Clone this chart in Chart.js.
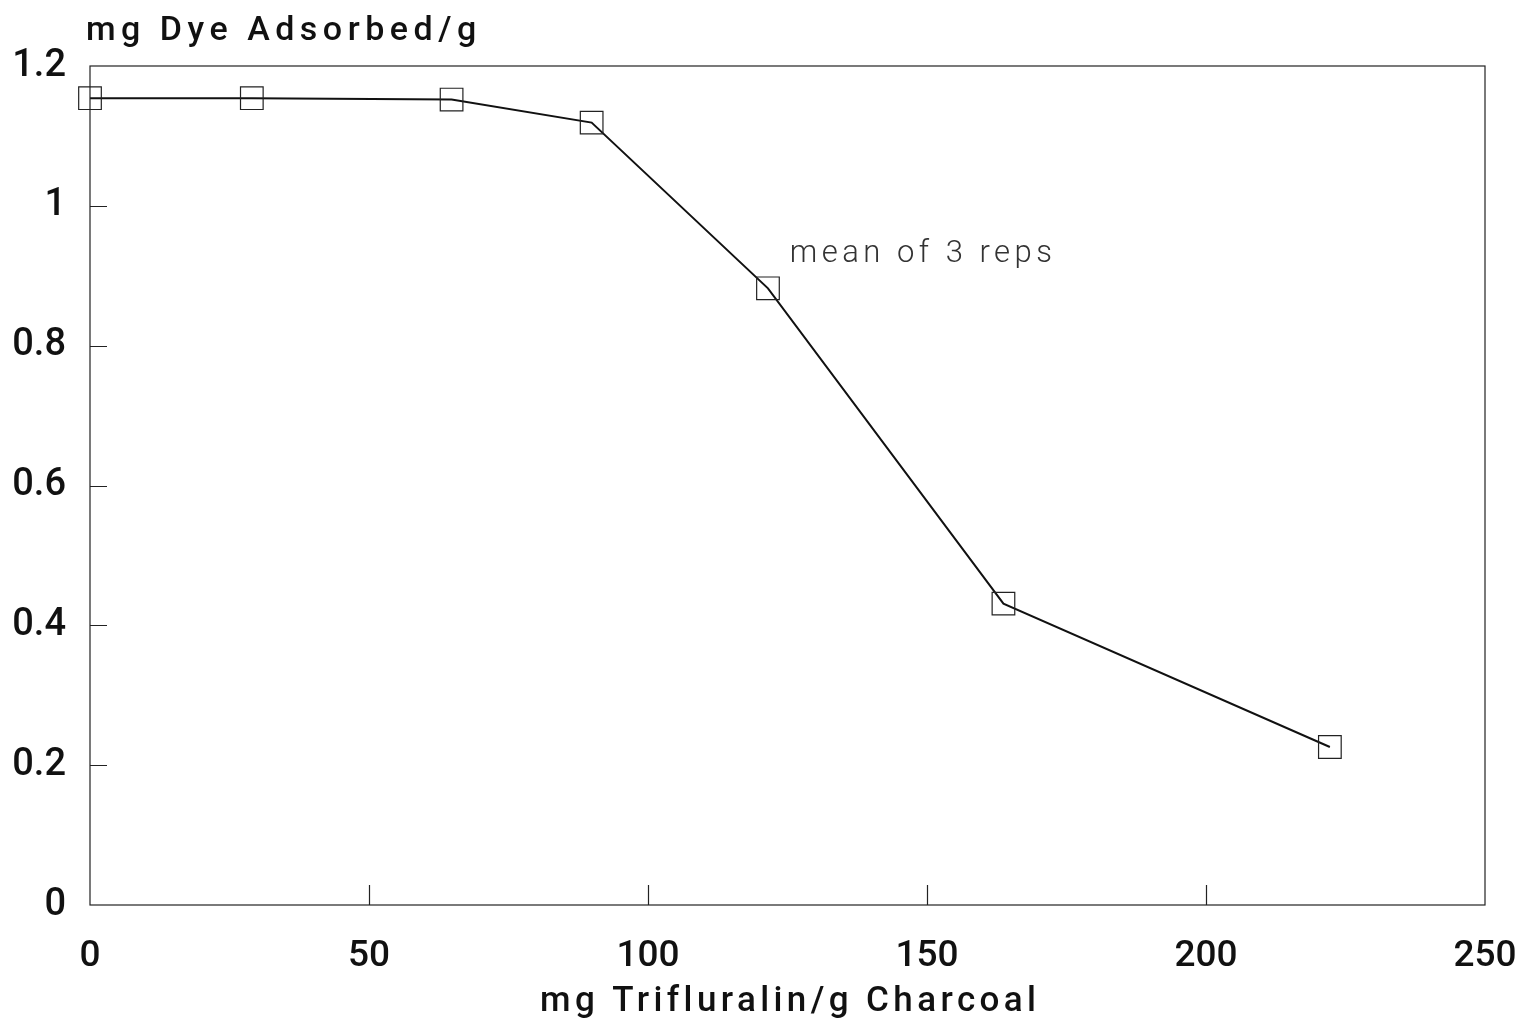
<!DOCTYPE html>
<html>
<head>
<meta charset="utf-8">
<script src="https://cdn.jsdelivr.net/npm/chart.js@4"></script>
<style>
  body { margin: 0; background: #fff; }
  #wrap { width: 1530px; height: 1022px; }
</style>
</head>
<body>
<div id="wrap"><canvas id="chart" width="1530" height="1022"></canvas></div>
<script>
// values
const trifluralin = [0, 29, 64.8, 89.9, 121.5, 163.7, 222.2];
const dyeAdsorbed = [1.154, 1.154, 1.152, 1.119, 0.882, 0.431, 0.226];
const yTickLabels = ['0', '0.2', '0.4', '0.6', '0.8', '1', '1.2'];
const xTickLabels = ['0', '50', '100', '150', '200', '250'];
const yTitle = 'mg Dye Adsorbed/g';
const xTitle = 'mg Trifluralin/g Charcoal';
const note = 'mean of 3 reps';

const points = trifluralin.map((x, i) => ({ x: x, y: dyeAdsorbed[i] }));
const labelFont = 'Roboto, "Liberation Sans", Arial, sans-serif';

// frame, inward ticks and the loose texts
const decorations = {
    id: 'decorations',
    afterDraw(chart) {
        const ctx = chart.ctx;
        const area = chart.chartArea;
        const xs = chart.scales.x;
        const ys = chart.scales.y;
        ctx.save();
        ctx.strokeStyle = '#222';
        ctx.lineWidth = 1.2;
        ctx.strokeRect(area.left, area.top, area.right - area.left, area.bottom - area.top);

        ctx.beginPath();
        [50, 100, 150, 200].forEach(v => {
            const px = Math.round(xs.getPixelForValue(v)) + 0.5;
            ctx.moveTo(px, area.bottom);
            ctx.lineTo(px, area.bottom - 20);
        });
        [0.2, 0.4, 0.6, 0.8, 1].forEach(v => {
            const py = Math.round(ys.getPixelForValue(v)) + 0.5;
            ctx.moveTo(area.left, py);
            ctx.lineTo(area.left + 17, py);
        });
        ctx.stroke();

        ctx.fillStyle = '#111';
        ctx.textBaseline = 'alphabetic';
        ctx.font = '500 34px ' + labelFont;
        ctx.letterSpacing = '5.5px';
        ctx.textAlign = 'left';
        ctx.fillText(yTitle, 86, 40);

        ctx.font = '500 35px ' + labelFont;
        ctx.letterSpacing = '4.4px';
        ctx.fillText(xTitle, 540, 1011);

        ctx.fillStyle = '#333';
        ctx.font = '300 31px ' + labelFont;
        ctx.letterSpacing = '4.5px';
        ctx.fillText(note, xs.getPixelForValue(125.4), ys.getPixelForValue(0.92));
        ctx.restore();
    }
};

new Chart(document.getElementById('chart'), {
    type: 'scatter',
    data: {
        datasets: [{
            data: points,
            showLine: true,
            clip: false,
            borderColor: '#111',
            borderWidth: 2,
            pointStyle: 'rect',
            pointRadius: 16,
            pointHoverRadius: 16,
            pointBorderWidth: 1.2,
            pointBorderColor: '#222',
            pointBackgroundColor: 'rgba(0,0,0,0)',
            tension: 0
        }]
    },
    options: {
        responsive: false,
        animation: false,
        layout: { padding: { top: 66, right: 45, left: 0, bottom: 0 } },
        plugins: {
            legend: { display: false },
            tooltip: { enabled: false }
        },
        scales: {
            x: {
                type: 'linear',
                min: 0,
                max: 250,
                afterFit: s => {
                    s.height = 117;
                    s.paddingLeft = 0;
                    s.paddingRight = 0;
                },
                afterBuildTicks: s => { s.ticks = xTickLabels.map(t => ({ value: Number(t) })); },
                grid: { display: false },
                border: { display: false },
                ticks: {
                    padding: 22,
                    color: '#111',
                    maxRotation: 0,
                    font: { family: labelFont, size: 37, weight: 500 },
                    callback: (v, i) => xTickLabels[i]
                }
            },
            y: {
                type: 'linear',
                min: 0,
                max: 1.2,
                afterFit: s => {
                    s.width = 90;
                    s.paddingTop = 0;
                    s.paddingBottom = 0;
                },
                afterBuildTicks: s => { s.ticks = yTickLabels.map(t => ({ value: Number(t) })); },
                grid: { display: false },
                border: { display: false },
                ticks: {
                    padding: 16,
                    color: '#111',
                    font: { family: labelFont, size: 38, weight: 500 },
                    callback: (v, i) => yTickLabels[i]
                }
            }
        }
    },
    plugins: [decorations]
});
</script>
</body>
</html>
